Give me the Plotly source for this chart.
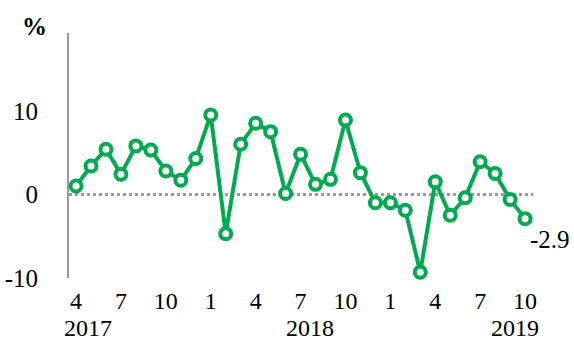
import plotly.graph_objects as go

# Monthly change, April 2017 – October 2019 (%)
months = [4, 5, 6, 7, 8, 9, 10, 11, 12,
          1, 2, 3, 4, 5, 6, 7, 8, 9, 10, 11, 12,
          1, 2, 3, 4, 5, 6, 7, 8, 9, 10]
values = [1.0, 3.4, 5.4, 2.4, 5.8, 5.3, 2.8, 1.7, 4.3,
          9.5, -4.7, 6.0, 8.5, 7.5, 0.1, 4.8, 1.2, 1.8, 8.9, 2.6, -1.0, -1.0,
          -1.9, -9.3, 1.5, -2.5, -0.4, 3.9, 2.5, -0.6, -2.9]
years = ["2017", "2018", "2019"]
year_pos = [0.8, 15.6, 29.3]
y_ticks = [-10, 0, 10]
y_tick_text = ["-10", "0", "10"]

idx = list(range(len(values)))
tick_idx = idx[::3]
tick_text = [str(months[i]) for i in tick_idx]

GREEN = "#00AA4F"
GREY = "#9a9a9a"
FONT = "Liberation Serif"

fig = go.Figure()

# dotted zero reference line
fig.add_shape(type="line", xref="x", yref="y", x0=-0.47, x1=30.55, y0=0, y1=0,
              line=dict(color=GREY, width=3, dash="dot"), layer="below")

fig.add_trace(go.Scatter(
    x=idx, y=values, mode="lines+markers",
    line=dict(color=GREEN, width=4),
    marker=dict(symbol="circle", size=11, color="white",
                line=dict(color=GREEN, width=4)),
    hoverinfo="skip", showlegend=False, cliponaxis=False,
))

# value label on the last point
fig.add_annotation(x=idx[-1], y=values[-1], text=f"{values[-1]:.1f}",
                   showarrow=False, xanchor="left", yanchor="middle",
                   xshift=3, yshift=-21,
                   font=dict(family=FONT, size=25, color="black"))

# year labels under the month ticks
for yr, pos in zip(years, year_pos):
    fig.add_annotation(x=pos, y=-0.2612, xref="x", yref="paper", text=yr,
                       showarrow=False, xanchor="center", yanchor="bottom",
                       borderpad=0,
                       font=dict(family=FONT, size=24, color="black"))

# unit label
fig.add_annotation(x=-0.07, y=1.025, xref="paper", yref="paper", text="<b>%</b>",
                   showarrow=False, xanchor="center", yanchor="middle",
                   font=dict(family=FONT, size=25, color="black"))

fig.update_layout(
    width=574, height=343,
    margin=dict(l=69, r=19, t=33, b=65, autoexpand=False),
    paper_bgcolor="white", plot_bgcolor="white",
    font=dict(family=FONT, size=25, color="black"),
    xaxis=dict(range=[-0.47, 32], tickmode="array", tickvals=tick_idx,
               ticktext=tick_text, showgrid=False, zeroline=False,
               showline=False, ticks="", ticklabelstandoff=6,
               tickfont=dict(size=24), automargin=False),
    yaxis=dict(range=[-10, 19.3], tickmode="array", tickvals=y_ticks,
               ticktext=y_tick_text,
               showgrid=False, zeroline=False, showline=True,
               linecolor=GREY, linewidth=2, ticks="", ticklabelstandoff=24,
               automargin=False),
)

fig.write_html("out.html")
